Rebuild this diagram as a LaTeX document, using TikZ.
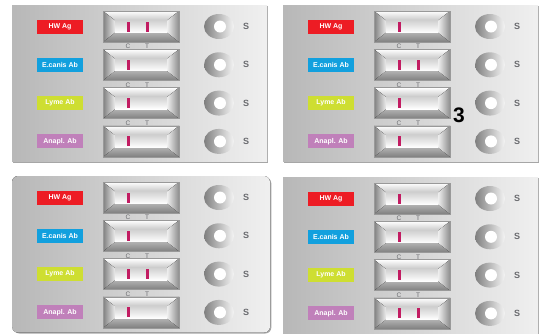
\documentclass[tikz,border=0pt]{standalone}
\usepackage{fontspec}
\setmainfont{Liberation Sans}
\usepackage{xcolor}
\usepackage{tikz}
\usetikzlibrary{shapes.geometric,calc}

\definecolor{hwred}{RGB}{237,28,36}
\definecolor{ecblue}{RGB}{18,160,222}
\definecolor{lymegreen}{RGB}{206,222,50}
\definecolor{anaplpurple}{RGB}{192,128,186}
\definecolor{bandred}{RGB}{194,28,98}
\definecolor{textgray}{RGB}{105,106,110}

% one snap test card: #1 name, #2 left, #3 top, #4 row with T band, #5 corner radius, #6 width
\newcommand{\snapcard}[6]{%
  \begin{scope}[shift={(#2,#3)}]
    \fill[black!35, rounded corners=#5] (1.3,1.3) rectangle (#6+1.3,157.5);
    \fill[left color=black!28, right color=black!6, rounded corners=#5] (0,0) rectangle (#6,156.5);
    \foreach \lab/\col [count=\r] in {HW Ag/hwred, E.canis Ab/ecblue, Lyme Ab/lymegreen, Anapl. Ab/anaplpurple} {
      \pgfmathsetmacro\ry{21.5+38.3*(\r-1)}
      \node[testlabel, fill=\col] (#1-lab\r) at (48,\ry) {\lab};
      % strip with bevelled frame
      \node[stripbox] (#1-strip\r) at (129,\ry) {};
      \begin{scope}[shift={(129,\ry)}]
        \fill[top color=white, bottom color=black!22] (-38,-15.5) -- (38,-15.5) -- (26,-6) -- (-26,-6) -- cycle;
        \fill[top color=black!30, bottom color=black!50] (-38,15.5) -- (38,15.5) -- (26,6) -- (-26,6) -- cycle;
        \fill[left color=black!50, right color=black!8] (-38,-15.5) -- (-26,-6) -- (-26,6) -- (-38,15.5) -- cycle;
        \fill[left color=black!6, right color=black!45] (38,-15.5) -- (26,-6) -- (26,6) -- (38,15.5) -- cycle;
        \fill[top color=black!18, bottom color=white] (-26,-6) rectangle (26,6);
        \draw[black!40, line width=0.3pt] (-38,-15.5) rectangle (38,15.5);
        \fill[bandred] (-14.5,-5) rectangle (-11.5,5);
        \ifnum\r=#4 \fill[bandred] (4.5,-5) rectangle (7.5,5); \fi
      \end{scope}
      \ifnum\r<4
        \node[cttext] (#1-c\r) at (116,\ry+20) {C};
        \node[cttext] (#1-t\r) at (135,\ry+20) {T};
      \fi
      % sample well
      \node[well] (#1-well\r) at (207,\ry) {};
      \node[hole] (#1-hole\r) at ($(#1-well\r)+(1,0)$) {};
      \node[stext] (#1-s\r) at (234,\ry) {S};
    }
  \end{scope}}

\begin{document}
\begin{tikzpicture}[
  x=1pt, y=-1pt,
  testlabel/.style={minimum width=46pt, minimum height=14pt, inner sep=0pt,
                    font=\fontsize{7}{8}\selectfont\bfseries, text=white},
  stripbox/.style={minimum width=76pt, minimum height=31pt, inner sep=0pt},
  cttext/.style={font=\fontsize{6.5}{7}\selectfont, text=textgray, inner sep=0pt},
  well/.style={ellipse, minimum width=30pt, minimum height=25pt, inner sep=0pt,
               shading angle=70, left color=black!50, right color=black!4},
  hole/.style={circle, fill=white, minimum size=12pt, inner sep=0pt},
  stext/.style={font=\fontsize{9}{9}\selectfont\bfseries, text=textgray, inner sep=0pt}
]
  \useasboundingbox[fill=white] (0,0) rectangle (547,333);

  % four cards, each with one positive test
  \snapcard{a}{12}{5}{1}{0pt}{255}
  \snapcard{b}{283}{5}{2}{0pt}{255}
  \snapcard{c}{12}{176}{3}{6pt}{258}
  \snapcard{d}{283}{177}{4}{0pt}{255}

  \node[font=\fontsize{21}{21}\selectfont\bfseries] (fig3) at (459,115) {3};
\end{tikzpicture}
\end{document}
